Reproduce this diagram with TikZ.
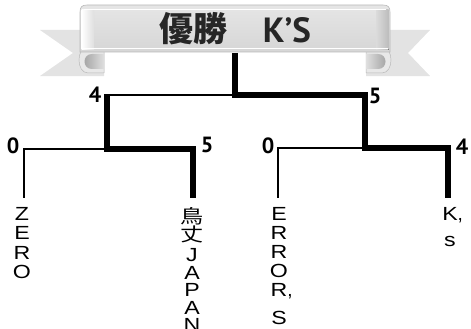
\documentclass[tikz,border=0pt]{standalone}
\usepackage{graphicx}
\usepackage{fontspec}
\setmainfont{Liberation Sans}
\newfontfamily\cjk{Noto Sans CJK JP}
\newfontfamily\ptsans{PT Sans}
\newcommand\wideltr[1]{\scalebox{1.22}[1]{#1}}
\begin{document}
\begin{tikzpicture}[x=1pt,y=-1pt,
  thinln/.style={line width=1.5pt, black},
  thickln/.style={line width=6.5pt, black, line join=miter},
  score/.style={font=\ptsans\bfseries\fontsize{22}{22}\selectfont, inner sep=0pt},
  team/.style={anchor=north, inner sep=0pt, align=center},
  tail/.style={fill=gray!22},
  curlout/.style={fill=gray!18, draw=gray!55, line width=0.5pt},
  bannertext/.style={inner sep=0pt}]
\useasboundingbox (0,0) rectangle (471,329);

% ---------- banner ----------
% tails
\path[tail] (40,30) -- (104,30) -- (104,76) -- (40,76) -- (73,53) -- cycle;
\path[tail] (430,30) -- (366,30) -- (366,76) -- (430,76) -- (408,53) -- cycle;
% curls
\path[curlout] (104,47) -- (88,47) .. controls (76,47) and (76,73) .. (88,73) -- (104,73) -- cycle;
\path[left color=gray!75, right color=gray!25] (104,54) -- (92,54) .. controls (82,54) and (82,69) .. (92,69) -- (104,69) -- cycle;
\path[curlout] (366,47) -- (382,47) .. controls (394,47) and (394,73) .. (382,73) -- (366,73) -- cycle;
\path[left color=gray!25, right color=gray!75] (366,54) -- (378,54) .. controls (388,54) and (388,69) .. (378,69) -- (366,69) -- cycle;
% main band
\path[draw=gray!55, line width=0.6pt, top color=gray!20, bottom color=gray!32]
  (80,52) -- (80,12) .. controls (80,7) and (82,5) .. (87,5) -- (383,5)
  .. controls (388,5) and (390,7) .. (390,12) -- (390,52) -- cycle;
\fill[left color=white, right color=gray!25] (81.5,10) rectangle (94,50);
\fill[left color=gray!28, right color=gray!52] (376,10) rectangle (388.5,50);
\draw[white, line width=1.3pt] (84,9.5) -- (386,9.5);
\draw[white, line width=1.3pt] (82,48.5) -- (388,48.5);
\node[bannertext, font=\cjk\bfseries\fontsize{34}{34}\selectfont, text=black!85] (yusho) at (193,29) {優勝};
\node[bannertext, anchor=base, font=\ptsans\bfseries\fontsize{35}{35}\selectfont, text=black!85] (champ) at (287,43) {K’S};

% ---------- bracket coordinates ----------
\coordinate (root) at (235,53);
\coordinate (fin) at (235,95);
\coordinate (semiL) at (107,95);
\coordinate (semiLtop) at (107,94.25);
\coordinate (semiR) at (365,95);
\coordinate (jL) at (107,149);
\coordinate (jR) at (365,148);
\coordinate (zeroC) at (24,149);
\coordinate (japC) at (193,149);
\coordinate (errC) at (278,148);
\coordinate (ksC) at (448,148);
\coordinate (zeroE) at (24,198);
\coordinate (japE) at (193,198);
\coordinate (errE) at (278,198);
\coordinate (ksE) at (448,198);

% thin (losing) lines
\draw[thinln] (fin) -- (semiL);
\draw[thinln] (jL) -- (zeroC) -- (zeroE);
\draw[thinln] (jR) -- (errC) -- (errE);
% thick (winning) lines
\draw[thickln] (semiLtop) -- (jL) -- (japC) -- (japE);
\draw[thickln] (root) -- (fin) -- (semiR) -- (jR) -- (ksC) -- (ksE);

% ---------- scores ----------
\node[score] (s1) at (95,95) {4};
\node[score] (s2) at (375,96) {5};
\node[score] (s3) at (13,146) {0};
\node[score] (s4) at (207,145) {5};
\node[score] (s5) at (268,146) {0};
\node[score] (s6) at (462,147) {4};

% ---------- team names ----------
\node[team, font=\fontsize{19}{19.5}\selectfont] (zero) at (22,207)
  {\wideltr{Z}\\\wideltr{E}\\\wideltr{R}\\\wideltr{O}};
\node[team, font=\fontsize{19}{17.5}\selectfont] (japan) at (192,207)
  {\wideltr{\cjk 鳥}\\[0.5pt]\wideltr{\cjk 丈}\\[3pt]\wideltr{J}\\\wideltr{A}\\\wideltr{P}\\\wideltr{A}\\\wideltr{N}};
\node[team, font=\fontsize{19}{19}\selectfont] (error) at (279,207)
  {\wideltr{E}\\\wideltr{R}\\\wideltr{R}\\\wideltr{O}\\\wideltr{R}\rlap{,}\\[9pt]\wideltr{S}};
\node[team, font=\fontsize{19}{19}\selectfont] (ks) at (450,207)
  {\wideltr{K}\rlap{,}\\[7pt]\wideltr{s}};
\end{tikzpicture}
\end{document}
